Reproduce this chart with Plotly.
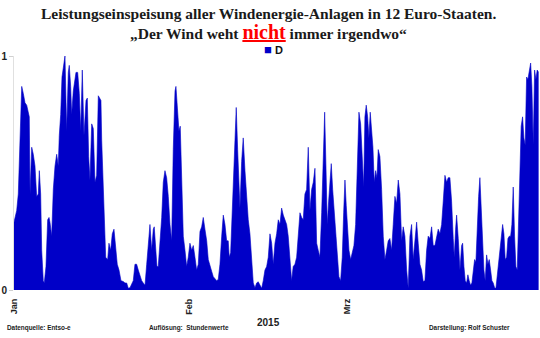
import pandas as pd
import plotly.graph_objects as go

# Days since 2015-01-01 (hourly data)
days = [0.00, 0.48, 0.76, 1.06, 1.37, 1.65, 1.95, 2.25, 2.54, 2.71, 2.84, 3.14, 3.42, 3.72, 4.02, 4.31, 4.49, 4.73, 4.91, 5.19,
        5.37, 5.67, 5.97, 6.21, 6.38, 6.68, 6.97, 7.27, 7.57, 7.85, 8.03, 8.28, 8.51, 8.74, 9.04, 9.34, 9.63, 9.80, 10.05, 10.23,
        10.51, 10.99, 11.29, 11.58, 11.83, 12.11, 12.41, 12.77, 13.00, 13.24, 13.47, 13.78, 14.06, 14.36, 14.66, 14.95, 15.42, 15.55, 15.83, 16.01,
        16.26, 16.61, 16.84, 17.14, 17.43, 17.73, 18.03, 18.31, 18.62, 18.97, 19.38, 19.68, 19.98, 20.27, 20.57, 20.87, 21.15, 21.45, 21.75, 22.04,
        22.34, 22.64, 22.92, 23.23, 23.53, 23.81, 24.11, 24.41, 24.70, 24.87, 25.12, 25.35, 25.58, 25.89, 26.19, 26.47, 26.77, 27.07, 27.36, 27.66,
        27.96, 28.24, 28.55, 28.72, 29.02, 29.25, 29.48, 29.73, 30.02, 30.32, 30.62, 30.90, 31.20, 31.51, 31.79, 32.09, 32.39, 32.68, 32.98, 33.28,
        33.56, 33.86, 34.17, 34.45, 34.75, 35.05, 35.34, 35.64, 35.94, 36.22, 36.52, 36.83, 37.11, 37.41, 37.71, 37.99, 38.17, 38.42, 38.65, 38.88,
        39.18, 39.41, 39.66, 39.89, 40.07, 40.37, 40.65, 40.96, 41.26, 41.54, 41.84, 42.14, 42.43, 42.73, 43.03, 43.31, 43.62, 43.92, 44.20, 44.50,
        44.80, 45.09, 45.39, 45.69, 45.97, 46.28, 46.58, 46.86, 47.16, 47.46, 47.75, 48.05, 48.35, 48.63, 48.93, 49.23, 49.51, 49.82, 50.12, 50.41,
        50.71, 51.01, 51.29, 51.59, 51.89, 52.18, 52.48, 52.78, 53.07, 53.37, 53.67, 53.95, 54.25, 54.56, 54.84, 55.09, 55.32, 55.55, 55.80, 56.03,
        56.26, 56.51, 56.74, 57.04, 57.32, 57.62, 57.92, 58.21, 58.46, 58.69, 58.92, 59.17, 59.40, 59.70, 59.98, 60.28, 60.58, 60.87, 61.17, 61.47,
        61.76, 62.01, 62.23, 62.46, 62.71, 62.94, 63.17, 63.42, 63.65, 63.88, 64.13, 64.36, 64.59, 64.89, 65.19, 65.48, 65.78, 66.08, 66.36, 66.66,
        66.96, 67.25, 67.55, 67.85, 68.14, 68.44, 68.74, 69.02, 69.32, 69.63, 69.91, 70.21, 70.51, 70.79, 71.10, 71.40, 71.68, 71.98, 72.28, 72.57,
        72.87, 73.17, 73.45, 73.76, 74.06, 74.34, 74.64, 74.94, 75.23, 75.53, 75.83, 76.12, 76.42, 76.72, 77.00, 77.30, 77.60, 77.89, 78.07, 78.31,
        78.49, 78.78, 79.08, 79.38, 79.56, 79.79, 80.02, 80.26, 80.49, 80.72, 80.97, 81.20, 81.43, 81.68, 81.91, 82.14, 82.39, 82.62, 82.85, 83.10,
        83.33, 83.56, 83.81, 84.04, 84.27, 84.52, 84.75, 84.98, 85.23, 85.46, 85.69, 85.94, 86.17, 86.40, 86.65, 86.88, 87.11, 87.36, 87.59, 87.82,
        88.07, 88.29, 88.53, 88.77, 89.00, 89.24, 89.48, 89.71, 89.94, 90.19, 90.42, 90.65, 90.90, 91.13, 91.37, 91.62, 91.84, 92.08, 92.32, 92.55,
        92.78, 93.03]

# Normalised wind power feed-in, Germany (D)
values_d = [.29, .34, .41, .67, .87, .84, .80, .79, .75, .74, .41, .61, .58, .53, .40, .41, .51, .41, .17, .04,
            .03, .10, .30, .31, .29, .23, .43, .53, .58, .53, .66, .75, .91, .95, 1.0, .68, .93, .96, .87, .75,
            .85, .93, .93, .84, .68, .94, .66, .81, .82, .57, .47, .71, .69, .46, .49, .83, .81, .64, .46, .31,
            .14, .13, .20, .17, .24, .26, .19, .11, .085, .04, .036, .03, .03, .007, .01, .03, .04, .11, .11, .085,
            .057, .04, .03, .02, .11, .20, .28, .17, .26, .27, .17, .10, .10, .19, .31, .46, .51, .48, .40, .28,
            .21, .60, .85, .87, .74, .68, .70, .46, .23, .17, .10, .14, .20, .17, .19, .14, .085, .11, .25, .27,
            .31, .26, .21, .13, .10, .08, .057, .05, .04, .045, .11, .23, .32, .28, .21, .21, .14, .16, .30, .51,
            .70, .78, .60, .43, .35, .55, .65, .51, .37, .30, .24, .11, .03, .01, .03, .035, .02, .007, .04, .085,
            .10, .14, .24, .20, .11, .20, .24, .30, .28, .35, .32, .30, .28, .23, .14, .04, .10, .11, .14, .23,
            .33, .31, .30, .41, .43, .61, .34, .43, .46, .52, .20, .17, .14, .33, .60, .76, .53, .28, .38, .48,
            .54, .43, .36, .27, .17, .057, .04, .14, .33, .47, .36, .24, .17, .13, .16, .19, .28, .53, .76, .71,
            .55, .44, .74, .79, .74, .65, .76, .68, .61, .46, .51, .48, .60, .57, .43, .23, .13, .17, .21, .22,
            .17, .28, .40, .37, .47, .41, .21, .27, .23, .085, .007, .23, .28, .13, .20, .29, .20, .11, .085, .036,
            .04, .17, .23, .22, .27, .19, .19, .23, .26, .24, .28, .38, .49, .46, .48, .48, .38, .22, .14, .26,
            .32, .22, .085, .19, .20, .10, .04, .03, .065, .04, .02, .03, .085, .13, .12, .28, .40, .48, .34, .20,
            .085, .04, .15, .11, .13, .085, .04, .03, .01, .007, .057, .14, .19, .23, .28, .24, .13, .14, .22, .23,
            .23, .28, .44, .23, .10, .085, .28, .57, .70, .74, .65, .62, .91, .90, .94, .97, .87, .62, .94, .90,
            .94, .93]

month_ticks = ["2015-01-01", "2015-02-01", "2015-03-01"]
month_labels = ["Jan", "Feb", "Mrz"]
y_ticks = [0, 1]
series_name = "D"

start = pd.Timestamp("2015-01-01")
dates = start + pd.to_timedelta(days, unit="D")
x_end = start + pd.to_timedelta(93.1, unit="D")

BLUE = "#0000C8"

fig = go.Figure()
fig.add_trace(go.Scatter(
    x=dates, y=values_d, name=series_name, mode="lines",
    fill="tozeroy", fillcolor=BLUE,
    line=dict(color=BLUE, width=0.6),
    showlegend=False,
))

fig.update_layout(
    width=540, height=338,
    margin=dict(l=14, r=1, t=56, b=48),
    paper_bgcolor="white", plot_bgcolor="white",
    showlegend=False,
    xaxis=dict(
        type="date",
        range=[start, x_end],
        tickvals=month_ticks, ticktext=[f"<b>{t}</b>" for t in month_labels],
        tickangle=-90,
        tickfont=dict(family="Liberation Sans, Arial", size=9, color="#222"),
        ticklabelstandoff=6,
        showgrid=False, zeroline=False,
        showline=False, ticks="", automargin=False,
    ),
    yaxis=dict(
        range=[0, 1],
        tickvals=y_ticks, ticktext=["<b>0</b>", "<b>1</b>"],
        tickfont=dict(family="Liberation Sans, Arial", size=10, color="#222"),
        showgrid=True, gridcolor="#e4e4e4", gridwidth=1,
        zeroline=False,
        showline=True, linecolor="#e0e0e0", linewidth=1,
        ticks="outside", ticklen=4, tickcolor="#d0d0d0",
        automargin=False,
    ),
)

serif = "Liberation Serif, Times New Roman, serif"
sans = "Liberation Sans, Arial, sans-serif"

fig.add_annotation(
    text="<b>Leistungseinspeisung aller Windenergie-Anlagen in 12 Euro-Staaten.</b>",
    xref="paper", yref="paper", x=0.5, xanchor="center",
    y=1 + (56 - 13) / 234, yanchor="middle", showarrow=False,
    font=dict(family=serif, size=15.5, color="#1a1a1a"), xshift=-8,
)
fig.add_annotation(
    text="<b>„Der Wind weht <span style='color:#FF0000;font-size:20px'><u>nicht</u></span> immer irgendwo“</b>",
    xref="paper", yref="paper", x=0.5, xanchor="center",
    y=1 + (56 - 32) / 234, yanchor="middle", showarrow=False,
    font=dict(family=serif, size=15.5, color="#1a1a1a"), xshift=-8,
)
fig.add_annotation(
    text=f"<span style='color:{BLUE};font-size:13px'>■</span> <b>{series_name}</b>",
    xref="paper", yref="paper", x=(273 - 14) / 525, xanchor="center",
    y=1 + (56 - 49) / 234, yanchor="middle", showarrow=False,
    font=dict(family=sans, size=11, color="#111"),
)

footer_y = -(328 - 290) / 234
for txt, xpx, anchor in [("Datenquelle: Entso-e", 5, "left"),
                         ("Auflösung:  Stundenwerte", 147, "left"),
                         ("Darstellung: Rolf Schuster", 512, "right")]:
    fig.add_annotation(
        text=f"<b>{txt}</b>", xref="paper", yref="paper",
        x=(xpx - 14) / 525, xanchor=anchor, y=footer_y, yanchor="middle",
        showarrow=False, font=dict(family=sans, size=6.4, color="#222"),
    )
fig.add_annotation(
    text="<b>2015</b>", xref="paper", yref="paper",
    x=(268 - 14) / 525, xanchor="center", y=-(322 - 290) / 234, yanchor="middle",
    showarrow=False, font=dict(family=sans, size=10, color="#222"),
)

fig.write_html("out.html")
